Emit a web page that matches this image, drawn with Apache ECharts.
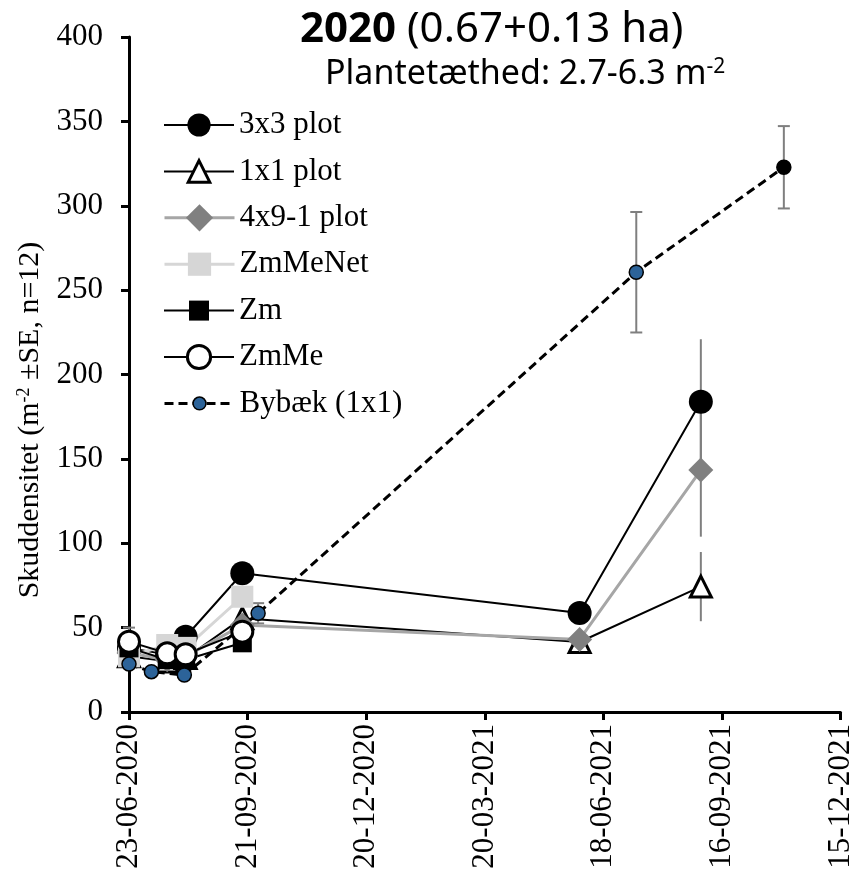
<!DOCTYPE html>
<html>
<head>
<meta charset="utf-8">
<script src="https://cdn.jsdelivr.net/npm/echarts@6/dist/echarts.min.js"></script>
<style>
  html, body { margin: 0; padding: 0; background: #fff; }
  #chart { width: 856px; height: 882px; }
</style>
</head>
<body>
<div id="chart"></div>
<script>
// Sampling dates (dd-mm-yyyy on the axis, ISO here)
const plotDates    = ['2020-06-23', '2020-07-22', '2020-08-05', '2020-09-17', '2021-05-31', '2021-08-31'];
const netDates     = ['2020-06-23', '2020-07-22', '2020-08-05', '2020-09-17'];
const bybaekDates  = ['2020-06-23', '2020-07-10', '2020-08-04', '2020-09-29', '2021-07-13', '2021-11-02'];

// Shoot density (m-2) and standard errors
const plot3x3      = [38, 34, 44.6, 82.2, 58.7, 183.9];
const plot3x3SE    = [4, 3, 4, 5, 5, 37];
const plot1x1      = [33, 30, 32, 55.6, 41.5, 74.3];
const plot1x1SE    = [3, 3, 3, 4, 4, 20.5];
const plot4x9      = [35, 31, 33, 51.5, 43, 143.4];
const plot4x9SE    = [3, 3, 3, 4, 4, 39.5];
const zmMeNet      = [33, 39.7, 38, 68.3];
const zmMeNetSE    = [4, 4, 4, 5];
const zm           = [38, 31, 31, 41];
const zmSE         = [4, 3, 3, 4];
const zmMe         = [41.7, 34.8, 34.2, 47.6];
const zmMeSE       = [8.3, 3, 3, 4];
const bybaek       = [28.4, 23.9, 21.9, 58.5, 260.6, 322.8];
const bybaekSE     = [2, 2, 2, 6, 35.7, 24.4];

// Axis ticks
const axisStart = '2020-06-23';
const xTickDays = 90;
const xMaxDays  = 540;
const yTicks    = [0, 50, 100, 150, 200, 250, 300, 350, 400];

const DAY = 86400000;
const t0 = Date.parse(axisStart + 'T00:00:00Z');
const dayOf = d => Math.round((Date.parse(d + 'T00:00:00Z') - t0) / DAY);
const fmtDay = v => {
  const dt = new Date(t0 + v * DAY);
  const p = n => String(n).padStart(2, '0');
  return p(dt.getUTCDate()) + '-' + p(dt.getUTCMonth() + 1) + '-' + dt.getUTCFullYear();
};
const pts = (dates, vals) => dates.map((d, i) => [dayOf(d), vals[i]]);

const SERIF = '"Liberation Serif", "Times New Roman", serif';
const SANS = '"Noto Sans", "Open Sans", sans-serif';

function errorBars(name, dates, vals, errs, cap) {
  return {
    type: 'custom',
    name: name + ' SE',
    silent: true,
    z: 1,
    data: dates.map((d, i) => [dayOf(d), vals[i] - errs[i], vals[i] + errs[i]]),
    encode: { x: 0, y: [1, 2] },
    renderItem(params, api) {
      const x = api.value(0);
      const lo = api.coord([x, api.value(1)]);
      const hi = api.coord([x, api.value(2)]);
      const st = { stroke: '#7f7f7f', lineWidth: 2 };
      const children = [{ type: 'line', shape: { x1: lo[0], y1: lo[1], x2: hi[0], y2: hi[1] }, style: st }];
      if (cap) {
        children.push({ type: 'line', shape: { x1: lo[0] - 6, y1: lo[1], x2: lo[0] + 6, y2: lo[1] }, style: st });
        children.push({ type: 'line', shape: { x1: hi[0] - 6, y1: hi[1], x2: hi[0] + 6, y2: hi[1] }, style: st });
      }
      return { type: 'group', children };
    }
  };
}

function lineSeries(name, data, opts) {
  return Object.assign({
    type: 'line',
    name,
    data,
    z: 3,
    showSymbol: true,
    showAllSymbol: true,
    emphasis: { disabled: true },
    silent: true
  }, opts);
}

const bybaekData = pts(bybaekDates, bybaek).map((p, i) =>
  i === bybaek.length - 1 ? { value: p, itemStyle: { color: '#000' } } : p);

const series = [
  errorBars('3x3 plot', plotDates, plot3x3, plot3x3SE, false),
  errorBars('1x1 plot', plotDates, plot1x1, plot1x1SE, false),
  errorBars('4x9-1 plot', plotDates, plot4x9, plot4x9SE, false),
  errorBars('ZmMeNet', netDates, zmMeNet, zmMeNetSE, true),
  errorBars('Zm', netDates, zm, zmSE, true),
  errorBars('ZmMe', netDates, zmMe, zmMeSE, true),
  errorBars('Bybæk (1x1)', bybaekDates, bybaek, bybaekSE, true),
  lineSeries('3x3 plot', pts(plotDates, plot3x3), {
    symbol: 'circle', symbolSize: 24,
    itemStyle: { color: '#000' },
    lineStyle: { color: '#000', width: 2 }
  }),
  lineSeries('1x1 plot', pts(plotDates, plot1x1), {
    symbol: 'triangle', symbolSize: 21,
    itemStyle: { color: '#fff', borderColor: '#000', borderWidth: 3 },
    lineStyle: { color: '#000', width: 2 }
  }),
  lineSeries('4x9-1 plot', pts(plotDates, plot4x9), {
    symbol: 'diamond', symbolSize: 25,
    itemStyle: { color: '#808080' },
    lineStyle: { color: '#a6a6a6', width: 3 }
  }),
  lineSeries('ZmMeNet', pts(netDates, zmMeNet), {
    symbol: 'rect', symbolSize: 22,
    itemStyle: { color: '#d6d6d6' },
    lineStyle: { color: '#d6d6d6', width: 3 }
  }),
  lineSeries('Zm', pts(netDates, zm), {
    symbol: 'rect', symbolSize: 19,
    itemStyle: { color: '#000' },
    lineStyle: { color: '#000', width: 2 }
  }),
  lineSeries('ZmMe', pts(netDates, zmMe), {
    symbol: 'circle', symbolSize: 21,
    itemStyle: { color: '#fff', borderColor: '#000', borderWidth: 3 },
    lineStyle: { color: '#000', width: 2 }
  }),
  lineSeries('Bybæk (1x1)', bybaekData, {
    symbol: 'circle', symbolSize: 14,
    itemStyle: { color: '#2c6399', borderColor: '#000', borderWidth: 1.5 },
    lineStyle: { color: '#000', width: 3, type: [9, 5] }
  })
];

// One legend block per entry so each icon keeps its own marker size
const legendRows = [
  { name: '3x3 plot', h: 29 },
  { name: '1x1 plot', h: 27, border: 3 },
  { name: '4x9-1 plot', h: 34, line: 3 },
  { name: 'ZmMeNet', h: 29, line: 3 },
  { name: 'Zm', h: 25 },
  { name: 'ZmMe', h: 29, border: 3 },
  { name: 'Bybæk (1x1)', h: 16, line: 3, border: 1.5 }
];
const legend = legendRows.map((r, i) => {
  const lg = {
    data: [r.name],
    left: 163,
    top: 125 + i * 46.4 - 17,
    orient: 'vertical',
    padding: 0,
    itemWidth: 70,
    itemHeight: r.h,
    selectedMode: false,
    textStyle: { fontFamily: SERIF, fontSize: 31, color: '#000', lineHeight: 34 }
  };
  if (r.line) lg.lineStyle = { width: r.line };
  if (r.border) lg.itemStyle = { borderWidth: r.border };
  return lg;
});

const chart = echarts.init(document.getElementById('chart'), null, { renderer: 'canvas' });
chart.setOption({
  animation: false,
  backgroundColor: '#fff',
  grid: { left: 129, right: 13, top: 37, bottom: 170, containLabel: false },
  xAxis: {
    type: 'value',
    min: 0,
    max: xMaxDays,
    interval: xTickDays,
    axisLine: { show: true, lineStyle: { color: '#000', width: 3 } },
    axisTick: { show: true, inside: false, length: 8, lineStyle: { color: '#000', width: 3 } },
    splitLine: { show: false },
    axisLabel: {
      rotate: 90,
      margin: 12,
      fontFamily: SERIF,
      fontSize: 31,
      color: '#000',
      formatter: v => fmtDay(v)
    }
  },
  yAxis: {
    type: 'value',
    min: yTicks[0],
    max: yTicks[yTicks.length - 1],
    interval: yTicks[1] - yTicks[0],
    axisLine: { show: true, lineStyle: { color: '#000', width: 3 } },
    axisTick: { show: true, inside: false, length: 8, lineStyle: { color: '#000', width: 3 } },
    splitLine: { show: false },
    axisLabel: {
      margin: 26,
      fontFamily: SERIF,
      fontSize: 31,
      color: '#000'
    }
  },
  legend,
  series,
  graphic: [
    {
      type: 'text',
      left: 300, top: 9,
      style: {
        text: '{b|2020} (0.67+0.13 ha)',
        font: '42px ' + SANS,
        fill: '#000',
        rich: { b: { fontWeight: 'bold', fontSize: 42, fontFamily: SANS } }
      }
    },
    {
      type: 'text',
      left: 325, top: 57,
      style: {
        text: 'Plantetæthed: 2.7-6.3 m{sup|-2}',
        font: '34px ' + SANS,
        fill: '#000',
        rich: { sup: { fontSize: 21, fontFamily: SANS, verticalAlign: 'top' } }
      }
    },
    {
      type: 'text',
      x: 30, y: 420,
      rotation: Math.PI / 2,
      style: {
        text: 'Skuddensitet (m{sup|-2} ±SE, n=12)',
        font: '30px ' + SERIF,
        fill: '#000',
        align: 'center',
        verticalAlign: 'middle',
        rich: { sup: { fontSize: 18, fontFamily: SERIF, verticalAlign: 'top' } }
      }
    }
  ]
});
</script>
</body>
</html>
